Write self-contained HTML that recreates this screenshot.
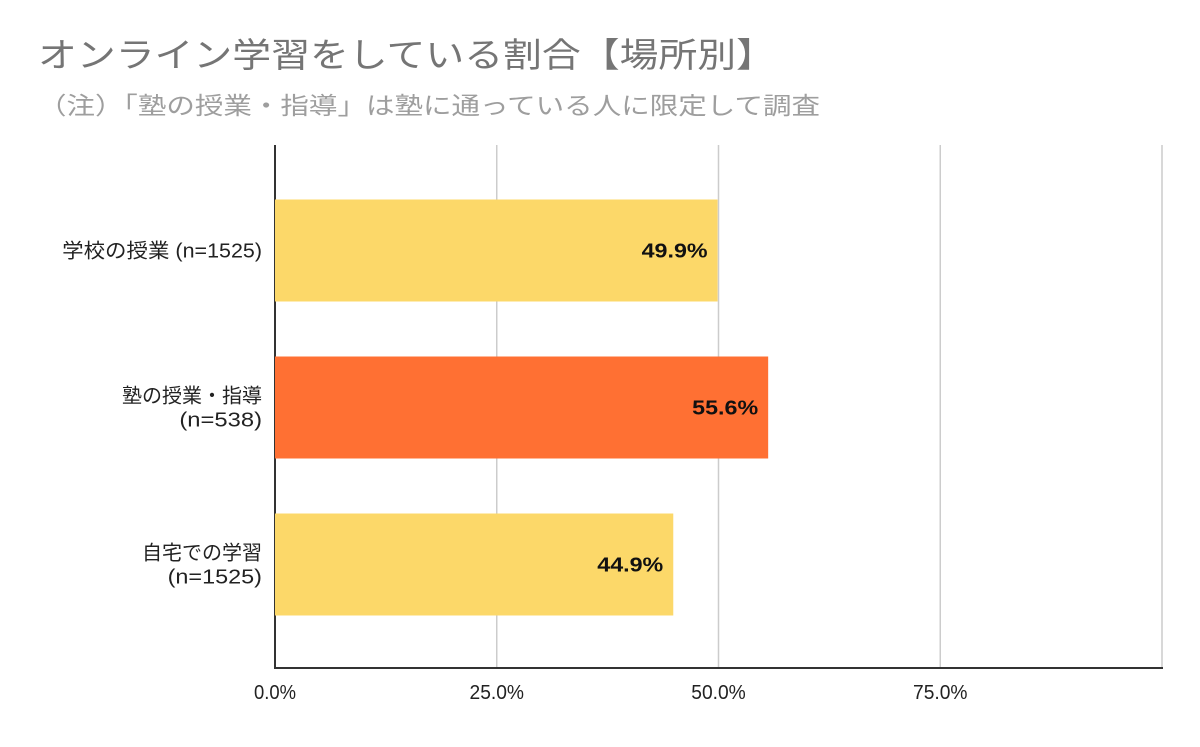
<!DOCTYPE html>
<html><head><meta charset="utf-8"><style>
body{margin:0;background:#fff;width:1200px;height:742px;overflow:hidden;font-family:"Liberation Sans","Noto Sans CJK JP",sans-serif}
</style></head><body>
<svg width="1200" height="742" xmlns="http://www.w3.org/2000/svg" style="font-family:'Liberation Sans','Noto Sans CJK JP',sans-serif">
<text x="38" y="67" font-size="34" fill="#757575" textLength="737" lengthAdjust="spacingAndGlyphs">オンライン学習をしている割合【場所別】</text>
<text x="38" y="114" font-size="24" fill="#9e9e9e" textLength="782" lengthAdjust="spacingAndGlyphs">（注）「塾の授業・指導」は塾に通っている人に限定して調査</text>
<g id="grid"></g><g id="bars"></g><g id="labels"></g>
</svg>
<script>
const categories=[["学校の授業 (n=1525)"],["塾の授業・指導","(n=538)"],["自宅での学習","(n=1525)"]];
const values=[49.9,55.6,44.9];
const colors=["#fcd869","#ff7033","#fcd869"];
const ticks=[0,25,50,75,100];
const tickLabels=["0.0%","25.0%","50.0%","75.0%",""];
const NS="http://www.w3.org/2000/svg";
const x0=275,x1=1162,yTop=145,yBot=668;
const xs=v=>x0+(x1-x0)*v/100;
const band=157,bandStart=172,barH=102;
const yc=i=>bandStart+band*(i+0.5);
const CH=20,LAT=11.8;
function w(s){let n=0;for(const c of s){n+=c.charCodeAt(0)>255?CH:(c===' '?5.5:LAT);}return n;}
function mk(t,a,p){const e=document.createElementNS(NS,t);for(const k in a)e.setAttribute(k,a[k]);p.appendChild(e);return e;}
const g=document.getElementById('grid'),b=document.getElementById('bars'),l=document.getElementById('labels');
ticks.forEach((t,i)=>{
 if(i>0){const ln=mk('line',{x1:xs(t),x2:xs(t),y1:yTop,y2:yBot,stroke:'#cccccc','stroke-width':1.5},g);
 
 }
 if(tickLabels[i]){const tx=mk('text',{x:xs(t),y:699,'font-size':20,fill:'#222','text-anchor':'middle',textLength:tickLabels[i].length*10.5+(tickLabels[i].length-4)*2,lengthAdjust:'spacingAndGlyphs'},l);tx.textContent=tickLabels[i];
 
 }
});
values.forEach((v,i)=>{
 const r=mk('rect',{x:x0,y:yc(i)-barH/2,width:xs(v)-x0,height:barH,fill:colors[i]},b);
 
 
 const vt=mk('text',{x:xs(v)-10,y:yc(i)+7,'font-size':20,'font-weight':'bold',fill:'#111','text-anchor':'end',textLength:66,lengthAdjust:'spacingAndGlyphs'},l);vt.textContent=v.toFixed(1)+'%';
 
 
 const lines=categories[i];
 lines.forEach((s,j)=>{
  const ct=mk('text',{x:262,y:yc(i)+7+(j-(lines.length-1)/2)*24,'font-size':20,fill:'#222','text-anchor':'end',textLength:w(s),lengthAdjust:'spacingAndGlyphs'},l);ct.textContent=s;
  
  
 });
});
const ax=mk('line',{x1:x0,x2:x0,y1:yTop,y2:yBot+1,stroke:'#333','stroke-width':2},g);


const bx=mk('line',{x1:x0-1,x2:x1+1,y1:yBot,y2:yBot,stroke:'#333','stroke-width':2},g);


</script>
</body></html>
